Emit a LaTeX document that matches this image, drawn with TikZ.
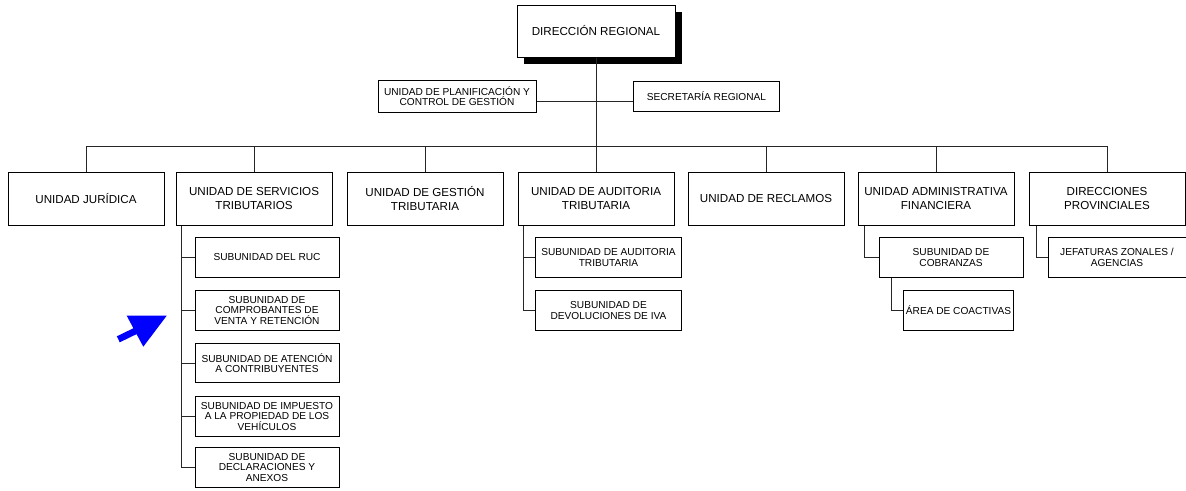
\documentclass[tikz,border=0pt]{standalone}
\usepackage{fontspec}
\setmainfont{Liberation Sans}
\usetikzlibrary{shadows}
\begin{document}
\begin{tikzpicture}[x=0.75pt,y=-0.75pt,
  box/.style={draw=black, line width=0.75pt, fill=white, align=center, inner sep=1pt},
  bigtxt/.style={font=\fontsize{8.7}{10}\selectfont},
  smalltxt/.style={font=\fontsize{7.6}{8}\selectfont},
  unitbox/.style={box, bigtxt, minimum width=117pt, minimum height=39.75pt},
  subbox/.style={box, smalltxt, minimum width=108pt, minimum height=29.5pt},
  link/.style={draw=black!85, line width=0.75pt}]
\useasboundingbox (0,0) rectangle (1186,490);

% --- top of the chart ---
\node[box, bigtxt, minimum width=118.5pt, minimum height=39pt,
      drop shadow={shadow xshift=5.25pt, shadow yshift=-5.25pt, fill=black, opacity=1}]
      (dr) at (596,31) {DIRECCIÓN REGIONAL};
\node[box, smalltxt, minimum width=118.5pt, minimum height=24pt] (plan) at (457,96)
      {UNIDAD DE PLANIFICACIÓN Y\\CONTROL DE GESTIÓN};
\node[box, smalltxt, minimum width=109pt, minimum height=22.5pt] (sec) at (706.5,96)
      {SECRETARÍA REGIONAL};

% --- first level units ---
\node[unitbox] (jur) at (86,198.5) {UNIDAD JURÍDICA};
\node[unitbox] (serv) at (254,198.5) {UNIDAD DE SERVICIOS\\TRIBUTARIOS};
\node[unitbox] (gest) at (425,198.5) {UNIDAD DE GESTIÓN\\TRIBUTARIA};
\node[unitbox] (aud) at (596,198.5) {UNIDAD DE AUDITORIA\\TRIBUTARIA};
\node[unitbox] (rec) at (766,198.5) {UNIDAD DE RECLAMOS};
\node[unitbox] (adm) at (936,198.5) {UNIDAD ADMINISTRATIVA\\FINANCIERA};
\node[unitbox] (prov) at (1107,198.5) {DIRECCIONES\\PROVINCIALES};

% --- subunits of servicios tributarios ---
\node[subbox] (ruc) at (267,257.5) {SUBUNIDAD DEL RUC};
\node[subbox] (comp) at (267,310.5) {SUBUNIDAD DE\\COMPROBANTES DE\\VENTA Y RETENCIÓN};
\node[subbox] (aten) at (267,363) {SUBUNIDAD DE ATENCIÓN\\A CONTRIBUYENTES};
\node[subbox] (imp) at (267,416.5) {SUBUNIDAD DE IMPUESTO\\A LA PROPIEDAD DE LOS\\VEHÍCULOS};
\node[subbox] (decl) at (267,467.5) {SUBUNIDAD DE\\DECLARACIONES Y\\ANEXOS};

% --- subunits of auditoria ---
\node[subbox, minimum width=109pt] (saud) at (608.5,257.5) {SUBUNIDAD DE AUDITORIA\\TRIBUTARIA};
\node[subbox, minimum width=109pt] (dev) at (608.5,310.5) {SUBUNIDAD DE\\DEVOLUCIONES DE IVA};

% --- subunits of administrativa financiera ---
\node[subbox] (cob) at (951,257.5) {SUBUNIDAD DE\\COBRANZAS};
\node[subbox, minimum width=83pt] (coac) at (958.5,310.5) {ÁREA DE COACTIVAS};

% --- subunits of direcciones provinciales ---
\node[subbox, minimum width=103.5pt] (jef) at (1117,257.5) {JEFATURAS ZONALES /\\AGENCIAS};

% --- connectors ---
\coordinate (bus) at (596,146);
\coordinate (mid) at (596,101);
\path[link] (dr.south) -- (bus);
\path[link] (plan.east |- mid) -- (sec.west |- mid);
\foreach \u in {jur,serv,gest,aud,rec,adm,prov}
  \path[link] (\u.north) -- (\u.north |- bus);
\path[link] (jur.north |- bus) -- (prov.north |- bus);

\coordinate (sx) at (181,0);
\foreach \c in {ruc,comp,aten,imp,decl}
  \path[link] (sx |- serv.south) |- (\c.west);

\coordinate (ax) at (523,0);
\foreach \c in {saud,dev}
  \path[link] (ax |- aud.south) |- (\c.west);

\coordinate (fx) at (864,0);
\path[link] (fx |- adm.south) |- (cob.west);
\coordinate (cx) at (891,0);
\path[link] (cx |- cob.south) |- (coac.west);

\coordinate (px) at (1036,0);
\path[link] (px |- prov.south) |- (jef.west);

% --- blue pointer ---
\fill[blue] (126.7,315.7) -- (166.7,315.7) -- (143.3,346.7) -- cycle;
\draw[blue, line width=5pt] (118.3,339.3) -- (137,330.2);
\end{tikzpicture}
\end{document}
